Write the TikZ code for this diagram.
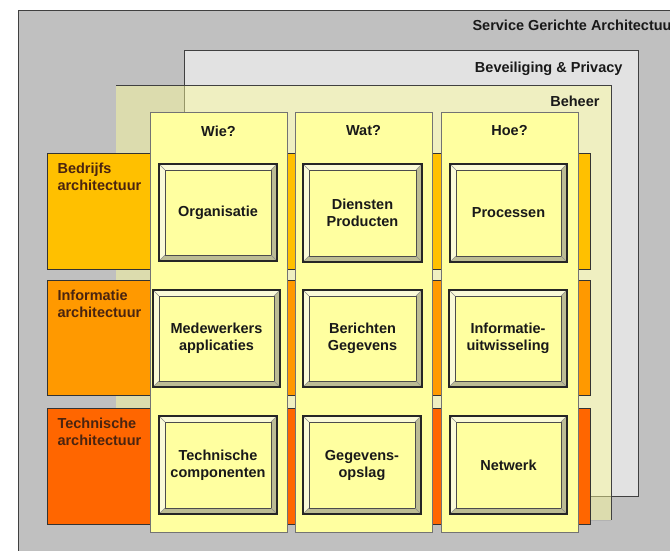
\documentclass[tikz,border=0pt]{standalone}
\usepackage{fontspec}
\setmainfont{Liberation Sans}
\usepackage{tikz}
\usetikzlibrary{positioning}
\usepackage{xcolor}
\definecolor{sgagrey}{HTML}{C0C0C0}
\definecolor{privgrey}{HTML}{E2E2E2}
\definecolor{beheeryellow}{HTML}{FFFF99}
\definecolor{colyellow}{HTML}{FFFFA0}
\definecolor{bedrijf}{HTML}{FFC000}
\definecolor{informatie}{HTML}{FF9900}
\definecolor{techniek}{HTML}{FF6600}
\definecolor{bevellight}{HTML}{FAFAD8}
\definecolor{beveldark}{HTML}{BCBC94}
\definecolor{rowtext}{HTML}{4A2410}

\begin{document}
\begin{tikzpicture}[x=1pt, y=-1pt, every node/.style={font=\fontsize{14.5}{17}\selectfont\bfseries, text=black!90}]
\clip (0,0) rectangle (670,550);
\fill[white] (0,0) rectangle (670,550);

% Layers
\draw[black!75, fill=sgagrey] (18,10) rectangle (700,580);
\node[anchor=west] (sga) at (469,25) {Service Gerichte Architectuur};
\draw[black!75, fill=privgrey] (184,50) rectangle (638,496);
\node[anchor=east] (privacy) at (626,69) {Beveiliging \& Privacy};
\fill[beheeryellow, opacity=0.45] (116,85) rectangle (611,520);
\draw[black!75] (116,85) -- (611,85) -- (611,520);
\draw[black!30] (116,520) -- (611,520);
\node[anchor=east] (beheer) at (603,101) {Beheer};

% Rows
\foreach \y/\h/\c/\name/\lbl in {153/116/bedrijf/bedrijfs/{Bedrijfs\\architectuur}, 280/115/informatie/info/{Informatie\\architectuur}, 408/116/techniek/technisch/{Technische\\architectuur}} {
    \draw[black!80, fill=\c] (47,\y) rectangle (590,\y+\h);
    \node[anchor=north west, align=left, text=rowtext] (\name) at (54,\y+6) {\lbl};
}

% Columns
\foreach \x/\name/\lbl in {150/wie/Wie?, 295/wat/Wat?, 441/hoe/Hoe?} {
    \draw[black!55, fill=colyellow] (\x,112) rectangle (\x+137,532);
    \node (\name) at (\x+68.5,131) {\lbl};
}

% Cells
\foreach \xa/\ya/\xb/\yb/\name/\lbl in {159/164/277/261/organisatie/Organisatie, 303/164/422/262/diensten/{Diensten\\Producten}, 450/164/567/262/processen/Processen, 153/290/280/387/medewerkers/{Medewerkers\\applicaties}, 303/290/422/387/berichten/{Berichten\\Gegevens}, 449/290/567/387/uitwisseling/{Informatie-\\uitwisseling}, 159/416/277/514/componenten/{Technische\\componenten}, 303/416/421/514/opslag/{Gegevens-\\opslag}, 450/416/567/514/netwerk/Netwerk} {
    \fill[bevellight] (\xa,\ya) rectangle (\xb,\yb);
    \fill[beveldark] (\xa,\yb) -- (\xb,\yb) -- (\xb,\ya) -- (\xb-6,\ya+6) -- (\xb-6,\yb-6) -- (\xa+6,\yb-6) -- cycle;
    \draw[black!70, fill=colyellow] (\xa+6,\ya+6) rectangle (\xb-6,\yb-6);
    \draw[black!45] (\xa,\ya) -- (\xa+6,\ya+6) (\xb,\ya) -- (\xb-6,\ya+6) (\xa,\yb) -- (\xa+6,\yb-6) (\xb,\yb) -- (\xb-6,\yb-6);
    \draw[black!85, line width=1.2pt] (\xa,\ya) rectangle (\xb,\yb);
    \node[align=center] (\name) at ({(\xa+\xb)/2},{(\ya+\yb)/2}) {\lbl};
}
\end{tikzpicture}
\end{document}
